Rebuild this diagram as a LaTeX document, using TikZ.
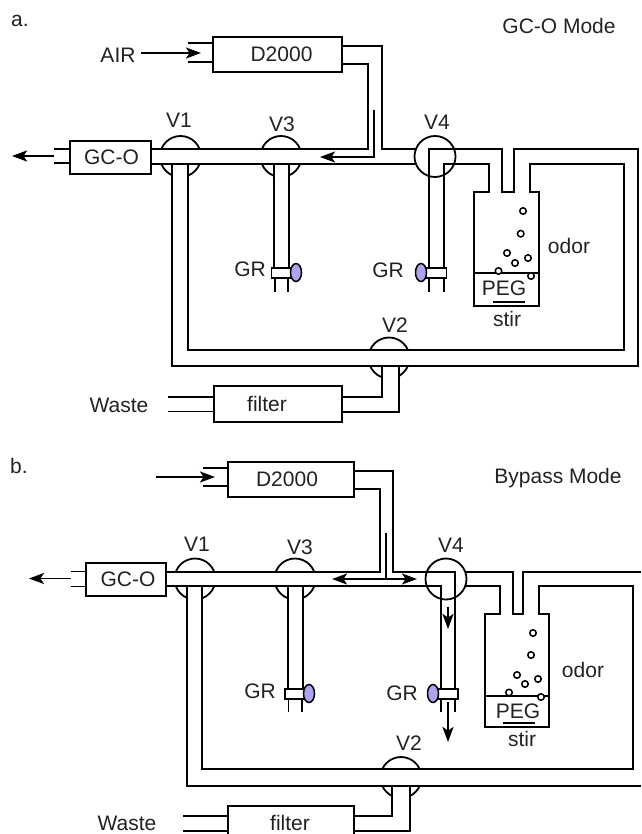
\documentclass[tikz,border=0pt]{standalone}
\usepackage{fontspec}
\setmainfont{Liberation Sans}
\usetikzlibrary{arrows.meta,positioning,shapes.geometric}
\definecolor{knob color}{RGB}{172,164,236}
\definecolor{text color}{RGB}{34,34,34}
\tikzset{
    pipe/.style={line width=1.8pt},
    arr/.style={pipe,-{Stealth[length=15pt,width=11pt,inset=3.5pt]}},
    darr/.style={pipe,{Stealth[length=15pt,width=11pt,inset=3.5pt]}-{Stealth[length=15pt,width=11pt,inset=3.5pt]}},
    box/.style={draw,pipe,fill=white,inner sep=0pt,outer sep=0pt},
    valve/.style={circle,draw,pipe,inner sep=0pt,outer sep=0pt,minimum size=41pt},
    gr body/.style={box,minimum width=20pt,minimum height=10pt},
    gr knob/.style={ellipse,draw,line width=1.5pt,fill=knob color,inner sep=0pt,minimum width=11pt,minimum height=18pt},
    bubble/.style={circle,draw,line width=1.5pt,fill=white,inner sep=0pt,minimum size=6.5pt},
}
\tikzstyle{every node}=[font=\fontsize{21}{24}\selectfont,text=text color]

\begin{document}
\begin{tikzpicture}[x=1pt,y=-1pt]
    \useasboundingbox (0,0) rectangle (641,834);
    \begin{scope}
        \node (panelA) at (20,21) {a.};
        \node (modeA) at (559,26) {GC-O Mode};
        \node[valve] (V1a) at (180.5,156.5) {};
        \node[valve] (V3a) at (281,156.5) {};
        \node[valve] (V2a) at (389,358) {};
        \fill[white] (155,149) rectangle (305,164);
        \fill[white] (172,164) rectangle (188,180);
        \fill[white] (274,164) rectangle (289,180);
        \fill[white] (365,350) rectangle (412,366);
        \fill[white] (382,366) rectangle (399,382);
        \node (V1aT) at (179,120) {V1};
        \node (V3aT) at (282,124) {V3};
        \node (V4aT) at (437,122) {V4};
        \node (V2aT) at (395,325) {V2};

        % D2000 and inlet
        \node[box,minimum width=129pt,minimum height=35pt] (D2000a) at (277.5,54.5) {};
        \node at ([xshift=4pt]D2000a) {D2000};
        \draw[pipe] (188,43) -- (213,43) (188,62) -- (213,62);
        \node (AIRa) at (118,55) {AIR};
        \coordinate (inA) at (201,53);
        \draw[arr] ([xshift=2pt]AIRa.east |- inA) -- (inA);
        \draw[pipe] (342,46) -- (382,46) -- (382,149) -- (415,149);
        \draw[pipe] (342,64) -- (368,64) -- (368,149) -- (151,149);
        \draw[pipe] (151,164) -- (415,164);
        \draw[arr] (374,110) -- (374,157) -- (320,157);

        % GC-O and outlet
        \node[box,minimum width=81pt,minimum height=33pt] (GCOa) at (110.5,157.5) {};
        \node at ([xshift=1pt]GCOa) {GC-O};
        \draw[pipe] (54,149) -- (70,149) (54,163) -- (70,163);
        \coordinate (outA) at (54,156);
        \coordinate (endA) at (12,156);
        \draw[arr] (outA) -- (endA);

        % loops round the vial
        \draw[pipe] (172,164) -- (172,366) -- (638,366) -- (638,149) -- (514,149) -- (514,192)
            -- (502,192) -- (502,149) -- (429,149) -- (429,268);
        \draw[pipe] (188,164) -- (188,350) -- (624,350) -- (624,164) -- (530,164) -- (530,192)
            -- (539,192) -- (539,306) -- (474,306) -- (474,192) -- (489,192) -- (489,164)
            -- (444,164) -- (444,268);
        \draw[pipe] (274,164) -- (274,268) (289,164) -- (289,268);
        \node[valve] (V4a) at (435,156.5) {};

        % GR valves
        \draw[pipe] (275,278) -- (275,292) (288,278) -- (288,292);
        \draw[pipe] (429,278) -- (429,292) (444,278) -- (444,292);
        \node[gr body] (GRbody3a) at (281.5,273) {};
        \node[gr body] (GRbody4a) at (436.5,273) {};
        \node[gr knob] (GRknob3a) at (296,272.5) {};
        \node[gr knob] (GRknob4a) at (421,272.5) {};
        \node (GR3a) at (250,269) {GR};
        \node (GR4a) at (388,270) {GR};

        % vial contents
        \draw[pipe] (474,273) -- (539,273);
        \draw[pipe] (493,302) -- (525,302);
        \foreach \x/\y [count=\i] in {523/211,520.7/233.7,507/253,515/263,528/258,498.5/271,531/276}
            \node[bubble] (bubA\i) at (\x,\y) {};
        \node (PEGa) at (504,288) {PEG};
        \node (stirA) at (507,319) {stir};
        \node (odorA) at (569,246) {odor};

        % filter and waste
        \draw[pipe] (382,366) -- (382,397) -- (342,397);
        \draw[pipe] (399,366) -- (399,412) -- (342,412);
        \draw[pipe] (168,397) -- (214,397) (168,411.5) -- (214,411.5);
        \node[box,minimum width=128pt,minimum height=36pt] (filterA) at (278,404) {};
        \node at ([xshift=-11pt]filterA) {filter};
        \node (wasteA) at (119,405) {Waste};
    \end{scope}

    \begin{scope}
        \node (panelB) at (19,466) {b.};
        \node (modeB) at (558,478) {Bypass Mode};
        \node[valve] (V1b) at (195,579) {};
        \node[valve] (V3b) at (295,579) {};
        \node[valve] (V2b) at (401,777.5) {};
        \fill[white] (170,572) rectangle (320,586);
        \fill[white] (187,586) rectangle (202,603);
        \fill[white] (288,586) rectangle (303,603);
        \fill[white] (376,769) rectangle (426,786);
        \fill[white] (392,786) rectangle (410,802);
        \node (V1bT) at (197,544) {V1};
        \node (V3bT) at (300,547) {V3};
        \node (V4bT) at (451,545) {V4};
        \node (V2bT) at (409,743) {V2};

        % D2000 and inlet
        \node[box,minimum width=126pt,minimum height=35pt] (D2000b) at (291,479.5) {};
        \node at ([xshift=-4pt]D2000b) {D2000};
        \draw[pipe] (203,468) -- (227,468) (203,486) -- (227,486);
        \coordinate (startB) at (156,477);
        \coordinate (inB) at (215,477);
        \draw[arr] (startB) -- (inB);
        \draw[pipe] (354,471) -- (393,471) -- (393,572) -- (455,572) -- (455,689);
        \draw[pipe] (354,489) -- (380,489) -- (380,572) -- (166,572);
        \draw[pipe] (166,586) -- (441,586) -- (441,689);
        \coordinate (splitB) at (386,579);
        \coordinate (leftB) at (332,579);
        \coordinate (rightB) at (417,579);
        \draw[pipe] (386,533) -- (splitB);
        \draw[darr] (leftB) -- (rightB);

        % GC-O and outlet
        \node[box,minimum width=80pt,minimum height=33pt] (GCOb) at (126,579.5) {};
        \node at ([xshift=2pt]GCOb) {GC-O};
        \draw[pipe] (71,571.5) -- (86,571.5) (71,586.5) -- (86,586.5);
        \coordinate (outB) at (71,578.5);
        \coordinate (endB) at (29,578.5);
        \draw[arr] (outB) -- (endB);

        % loops round the vial
        \draw[pipe] (187,586) -- (187,786) -- (641,786);
        \draw[pipe] (466,572) -- (513,572) -- (513,614) -- (523,614) -- (523,572) -- (641,572);
        \draw[pipe] (202,586) -- (202,769) -- (633,769) -- (633,586) -- (539,586) -- (539,614)
            -- (549,614) -- (549,727) -- (485,727) -- (485,614) -- (500,614) -- (500,586) -- (466,586);
        \draw[pipe] (288,586) -- (288,689) (303,586) -- (303,689);
        \node[valve] (V4b) at (446,579) {};
        \coordinate (pipeTopB) at (448,607);
        \coordinate (pipeEndB) at (448,629);
        \draw[arr] (pipeTopB) -- (pipeEndB);

        % GR valves
        \draw[pipe] (288.5,699) -- (288.5,712) (302,699) -- (302,712);
        \draw[pipe] (441,699) -- (441,712) (455,699) -- (455,712);
        \node[gr body] (GRbody3b) at (295,694) {};
        \node[gr body] (GRbody4b) at (448,694) {};
        \node[gr knob] (GRknob3b) at (309,693.5) {};
        \node[gr knob] (GRknob4b) at (433,693.5) {};
        \node (GR3b) at (260,691) {GR};
        \node (GR4b) at (402,693) {GR};
        \coordinate (ventTopB) at (448,702);
        \coordinate (ventEndB) at (448,742);
        \draw[arr] (ventTopB) -- (ventEndB);

        % vial contents
        \draw[pipe] (485,696) -- (549,696);
        \draw[pipe] (503,723) -- (535,723);
        \foreach \x/\y [count=\i] in {533/633,531/655,517/675,525/684,538/679,509/692.5,541/697}
            \node[bubble] (bubB\i) at (\x,\y) {};
        \node (PEGb) at (518,711) {PEG};
        \node (stirB) at (522,739) {stir};
        \node (odorB) at (583,670) {odor};

        % filter and waste
        \draw[pipe] (392,786) -- (392,816) -- (354,816);
        \draw[pipe] (410,786) -- (410,831) -- (354,831);
        \draw[pipe] (183,816) -- (228,816) (183,831) -- (228,831);
        \node[box,minimum width=126pt,minimum height=36pt] (filterB) at (291,824) {};
        \node (filterBT) at (290,823) {filter};
        \node (wasteB) at (127,823) {Waste};
    \end{scope}
\end{tikzpicture}
\end{document}
